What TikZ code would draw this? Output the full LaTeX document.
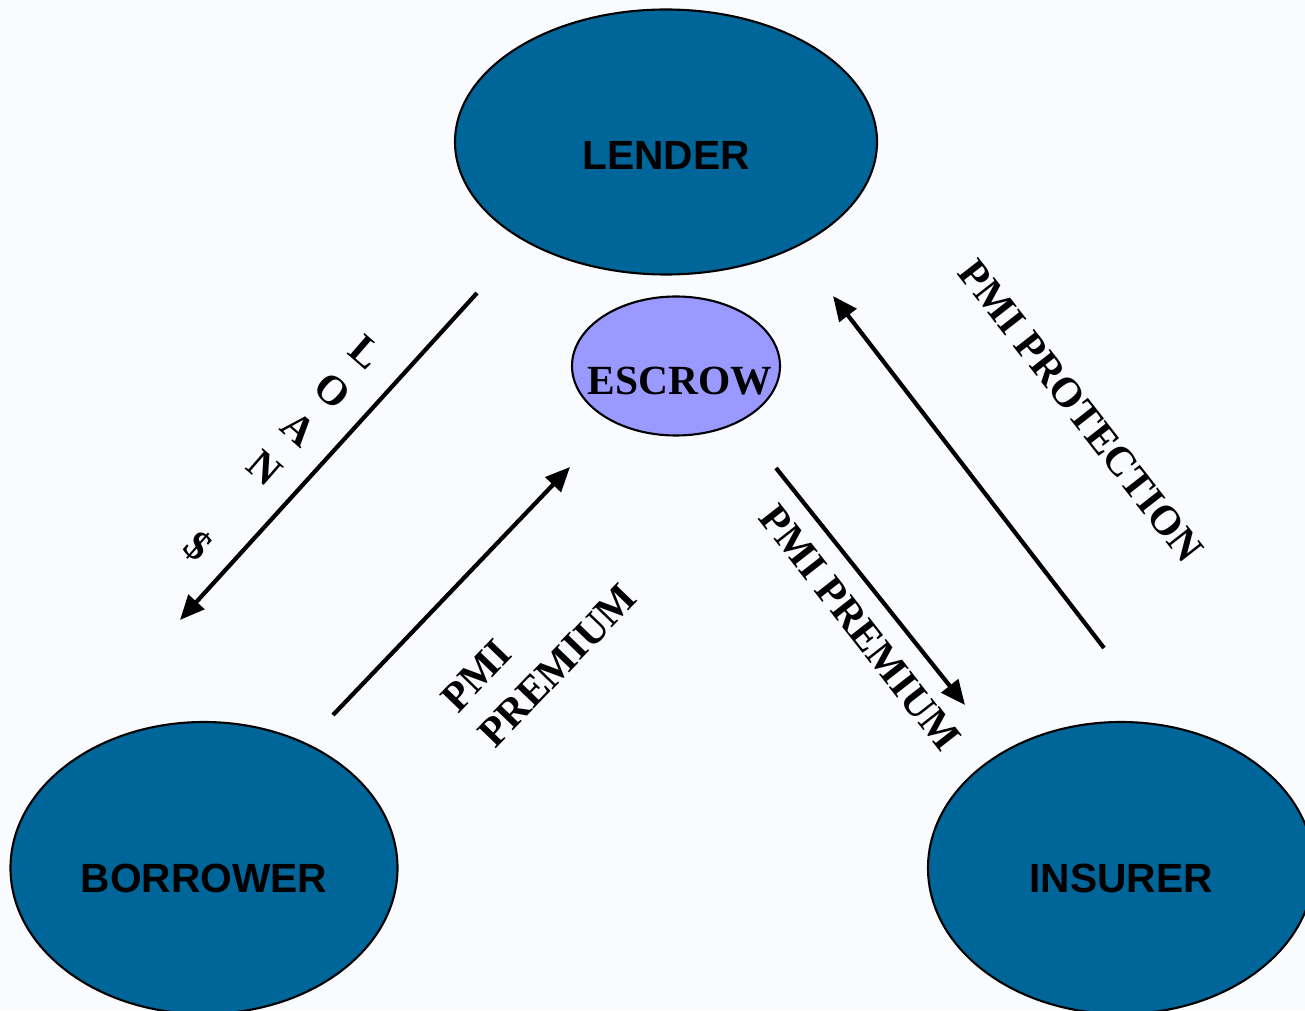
\documentclass[tikz,border=0pt]{standalone}
\usepackage{fontspec}
\setmainfont{Liberation Serif}
\setsansfont{Liberation Sans}
\usepackage{tikz}
\usetikzlibrary{arrows.meta,shapes.geometric}
\usepackage{xcolor}
\definecolor{party}  {RGB}{0,101,153}
\definecolor{escrowc}{RGB}{153,153,255}
\definecolor{pagebg} {RGB}{250,251,255}

\begin{document}
\begin{tikzpicture}[
          pty/.style={ellipse,draw=black,line width=0.6pt,fill=party,inner sep=0pt,
                      minimum width=3.87cm,minimum height=2.92cm,text depth=0pt,
                      font=\sffamily\bfseries\fontsize{11.6}{14}\selectfont},
          flow/.style={-{Triangle[length=7pt,width=6pt]},line width=1.2pt},
          lbl/.style={font=\bfseries\fontsize{11.8}{14.6}\selectfont,inner sep=0pt}
      ]
        \useasboundingbox (0,0) rectangle (13.05,10.10);
        \fill[pagebg] (0,0) rectangle (13.05,10.10);
        \clip (0,0) rectangle (13.05,10.10);
        % parties
        \node[pty,minimum width=4.22cm,minimum height=2.65cm,text height=0.56cm] (lend) at (6.66,8.68) {LENDER};
        \node[pty,text height=0.48cm] (bor) at (2.04,1.42) {BORROWER};
        \node[pty,minimum width=3.86cm,text height=0.48cm] (ins) at (11.21,1.42) {INSURER};
        \node[ellipse,draw=black,line width=0.6pt,fill=escrowc,inner ysep=0pt,inner xsep=-0.3cm,
              minimum width=2.08cm,minimum height=1.39cm,text height=0.58cm,text depth=0pt,
              font=\bfseries\fontsize{11.8}{14}\selectfont] (esc) at (6.76,6.44) {\hspace{0.08cm}ESCROW};
        % arrow ends
        \coordinate (loanA) at (4.77,7.17);
        \coordinate (loanB) at (1.80,3.90);
        \coordinate (premA) at (3.33,2.95);
        \coordinate (premB) at (5.70,5.43);
        \coordinate (pmiA)  at (7.76,5.42);
        \coordinate (pmiB)  at (9.65,3.05);
        \coordinate (protA) at (11.04,3.62);
        \coordinate (protB) at (8.33,7.14);
        \draw[flow] (loanA) -- (loanB);
        \draw[flow] (premA) -- (premB);
        \draw[flow] (pmiA)  -- (pmiB);
        \draw[flow] (protA) -- (protB);
        % labels
        \node[lbl,rotate=-41,align=center] (loan) at (2.81,5.60) {L\\O\\A\\N\\~\\\$};
        \node[lbl,rotate=46,align=left]    (prem) at (5.39,3.62) {PMI\\PREMIUM};
        \node[lbl,rotate=-52]              (pmi)  at (8.60,3.82) {PMI PREMIUM};
        \node[lbl,rotate=-52]              (prot) at (10.81,5.99) {PMI PROTECTION};
      \end{tikzpicture}
\end{document}
